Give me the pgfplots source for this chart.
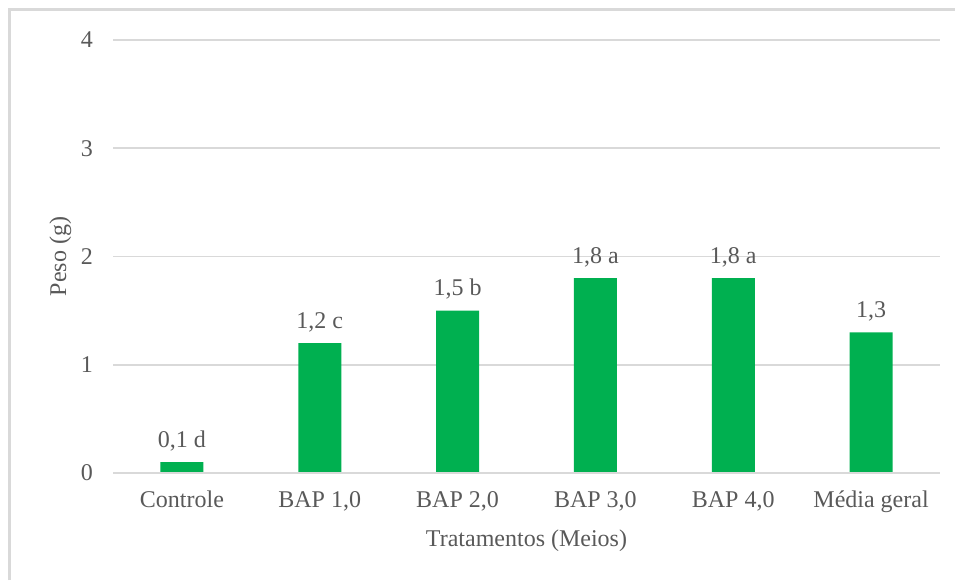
\documentclass[border=0pt]{standalone}
\usepackage{pgfplots}
\pgfplotsset{compat=1.18}
\usepackage{pgfplotstable}
\usepackage{fontspec}
\setmainfont{Liberation Serif}

\definecolor{bargreen}{HTML}{00B050}
\definecolor{gridgray}{HTML}{D9D9D9}
\definecolor{textgray}{HTML}{595959}
\definecolor{framegray}{HTML}{D9D9D9}

% Peso médio por tratamento, com letras do teste de médias
\pgfplotstableread[col sep=comma]{
x,peso,rotulo
0,0.1,{0,1 d}
1,1.2,{1,2 c}
2,1.5,{1,5 b}
3,1.8,{1,8 a}
4,1.8,{1,8 a}
5,1.3,{1,3}
}\dados

\begin{document}
\begin{tikzpicture}
  \useasboundingbox (0pt,0pt) rectangle (477.5pt,290pt);
  % moldura do gráfico
  \draw[framegray, line width=1.5pt] (4.5pt,0pt) -- (4.5pt,285pt) -- (477.5pt,285pt);
  \begin{axis}[
    at={(56.5pt,53.5pt)}, anchor=south west,
    scale only axis,
    width=413.5pt, height=216.5pt,
    xmin=-0.5, xmax=5.5,
    ymin=0, ymax=4,
    ytick={0,1,2,3,4},
    xtick=data,
    xticklabels={Controle,{BAP 1,0},{BAP 2,0},{BAP 3,0},{BAP 4,0},{Média geral}},
    major tick length=0pt,
    axis line style={draw=none},
    ymajorgrids,
    grid style={gridgray, line width=0.8pt},
    tick label style={font=\fontsize{12}{14}\selectfont, text=textgray},
    yticklabel style={xshift=-6.5pt},
    xticklabel style={yshift=-5.5pt},
    label style={font=\fontsize{12}{14}\selectfont, text=textgray},
    xlabel={Tratamentos (Meios)},
    ylabel={Peso (g)},
    xlabel style={yshift=-1.5pt},
    ylabel style={yshift=-2pt},
    /pgf/number format/assume math mode=true,
    ybar, bar width=21.5pt,
    nodes near coords,
    point meta=explicit symbolic,
    nodes near coords style={font=\fontsize{12}{14}\selectfont, text=textgray, yshift=2pt},
    clip=false,
  ]
    \addplot[fill=bargreen, draw=none] table[x=x, y=peso, meta=rotulo] {\dados};
    \draw[gridgray, line width=0.8pt] (axis cs:-0.5,0) -- (axis cs:5.5,0);
  \end{axis}
\end{tikzpicture}
\end{document}
